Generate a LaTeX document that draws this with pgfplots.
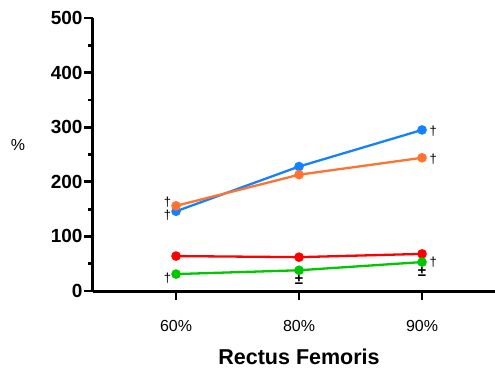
\documentclass[border=0pt]{standalone}
\usepackage{pgfplots}
\pgfplotsset{compat=1.18}
\usepackage{fontspec}
\setmainfont{Liberation Sans}
\definecolor{cblue}{RGB}{20,130,255}
\definecolor{corange}{RGB}{255,115,50}
\definecolor{cred}{RGB}{255,0,0}
\definecolor{cgreen}{RGB}{0,200,0}
\begin{document}
\begin{tikzpicture}
\path[use as bounding box] (-93pt,-82pt) rectangle (402pt,291pt);
\begin{axis}[
  at={(0pt,0pt)}, anchor=south west,
  scale only axis, width=402pt, height=273pt,
  xmin=-0.675, xmax=2.593, ymin=0, ymax=500,
  axis x line=bottom, axis y line=left,
  axis line style={-, line width=3pt},
  xtick={0,1,2}, xticklabels={60\%,80\%,90\%},
  ytick={0,100,200,300,400,500},
  minor ytick={50,150,250,350,450},
  /pgf/number format/assume math mode=true,
  tick style={black, line width=2.8pt},
  major tick length=9pt, minor tick length=5pt,
  tick align=outside,
  xticklabel style={font=\fontsize{16}{18}\selectfont, anchor=base, yshift=-31pt},
  yticklabel style={font=\fontsize{19}{22}\selectfont\bfseries, anchor=east, xshift=2pt},
  clip=false,
]
\addplot[cblue, line width=2.3pt, mark=*, mark size=3.6pt] coordinates {(0,146) (1,228) (2,295)};
\addplot[corange, line width=2.3pt, mark=*, mark size=3.6pt] coordinates {(0,156) (1,213) (2,244)};
\addplot[cred, line width=2.3pt, mark=*, mark size=3.6pt] coordinates {(0,64) (1,62) (2,68)};
\addplot[cgreen, line width=2.3pt, mark=*, mark size=3.6pt] coordinates {(0,31) (1,38) (2,53)};
\node[font=\fontsize{13}{13}\selectfont] at (axis cs:-0.07,162) {†};
\node[font=\fontsize{13}{13}\selectfont] at (axis cs:-0.07,138) {†};
\node[font=\fontsize{13}{13}\selectfont] at (axis cs:-0.07,23) {†};
\node[font=\fontsize{15}{15}\selectfont\bfseries] at (axis cs:1,20) {±};
\node[font=\fontsize{13}{13}\selectfont] at (axis cs:2.09,293) {†};
\node[font=\fontsize{13}{13}\selectfont] at (axis cs:2.09,242) {†};
\node[font=\fontsize{13}{13}\selectfont] at (axis cs:2.09,52) {†};
\node[font=\fontsize{15}{15}\selectfont\bfseries] at (axis cs:2,36) {±};
\node[font=\fontsize{16}{18}\selectfont] at (-75pt,146pt) {\%};
\node[font=\fontsize{21.5}{24}\selectfont\bfseries] at (axis cs:1,0) [yshift=-66pt] {Rectus Femoris};
\end{axis}
\end{tikzpicture}
\end{document}
